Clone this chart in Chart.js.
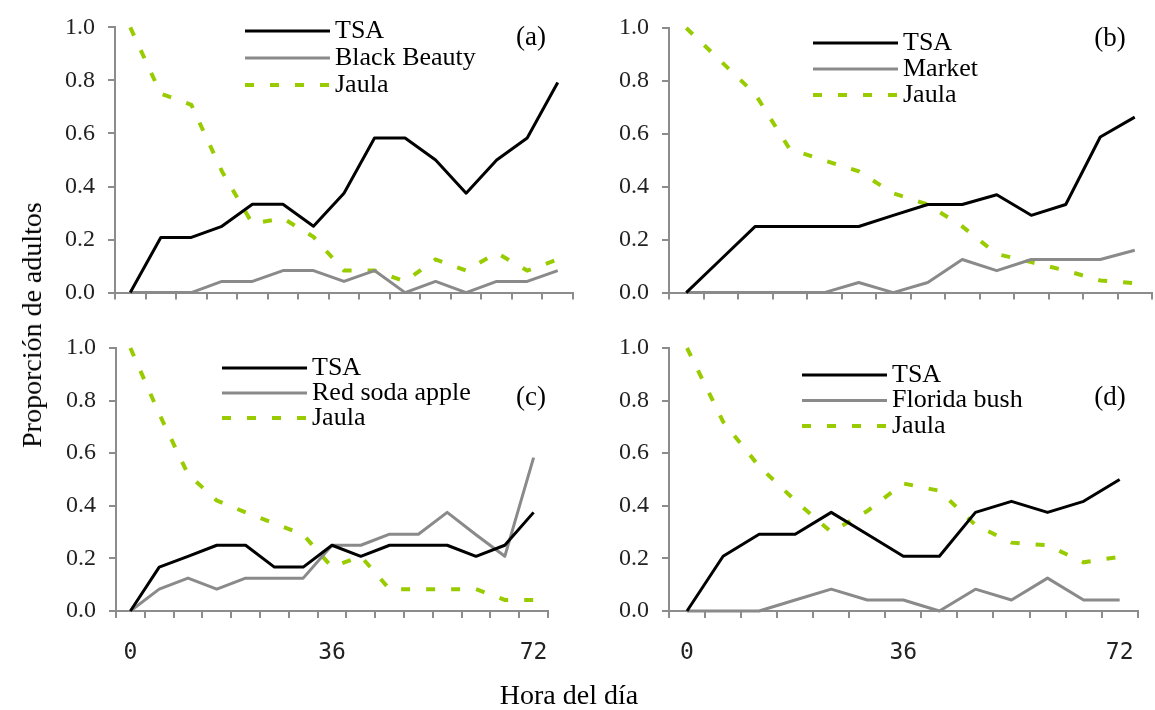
<!DOCTYPE html>
<html>
<head>
<meta charset="utf-8">
<script src="https://cdn.jsdelivr.net/npm/chart.js@4.4.1/dist/chart.umd.min.js"></script>
<style>
  body { margin:0; background:#fff; width:1155px; height:710px; position:relative; overflow:hidden; font-family:"Liberation Serif", serif; color:#000; }
  canvas { position:absolute; }
  #ytitle { position:absolute; left:32px; top:325px; transform:translate(-50%,-50%) rotate(-90deg); font-size:28px; line-height:1; white-space:nowrap; }
  #xtitle { position:absolute; left:569px; top:681px; transform:translateX(-50%); font-size:28px; line-height:1; white-space:nowrap; }
</style>
</head>
<body>
<canvas id="cA" width="600" height="320" style="left:0;top:0"></canvas>
<canvas id="cB" width="555" height="320" style="left:600px;top:0"></canvas>
<canvas id="cC" width="600" height="360" style="left:0;top:320px"></canvas>
<canvas id="cD" width="555" height="360" style="left:600px;top:320px"></canvas>
<div id="ytitle">Proporción de adultos</div>
<div id="xtitle">Hora del día</div>
<script>
// x tick labels (only the bottom panels show hours)
const hoursA = ['', '', '', '', '', '', '', '', '', '', '', '', '', '', ''];
const hoursB = ['', '', '', '', '', '', '', '', '', '', '', '', '', ''];
const hoursC = ['0', '', '', '', '', '', '', '36', '', '', '', '', '', '', '72'];
const hoursD = ['0', '', '', '', '', '', '36', '', '', '', '', '', '72'];

// (a) TSA vs Black Beauty
const tsaA   = [0, 0.208, 0.208, 0.25, 0.333, 0.333, 0.25, 0.375, 0.583, 0.583, 0.5, 0.375, 0.5, 0.583, 0.792];
const hostA  = [0, 0, 0, 0.042, 0.042, 0.083, 0.083, 0.042, 0.083, 0, 0.042, 0, 0.042, 0.042, 0.083];
const jaulaA = [1.0, 0.75, 0.708, 0.458, 0.26, 0.28, 0.21, 0.083, 0.083, 0.042, 0.125, 0.083, 0.15, 0.083, 0.125];

// (b) TSA vs Market
const tsaB   = [0, 0.125, 0.25, 0.25, 0.25, 0.25, 0.292, 0.333, 0.333, 0.37, 0.292, 0.333, 0.588, 0.663];
const hostB  = [0, 0, 0, 0, 0, 0.038, 0, 0.038, 0.125, 0.083, 0.125, 0.125, 0.125, 0.16];
const jaulaB = [1.0, 0.875, 0.75, 0.542, 0.5, 0.458, 0.375, 0.333, 0.25, 0.146, 0.115, 0.083, 0.046, 0.035];

// (c) TSA vs Red soda apple
const tsaC   = [0, 0.167, 0.208, 0.25, 0.25, 0.167, 0.167, 0.25, 0.208, 0.25, 0.25, 0.25, 0.208, 0.25, 0.375];
const hostC  = [0, 0.083, 0.125, 0.083, 0.125, 0.125, 0.125, 0.25, 0.25, 0.292, 0.292, 0.375, 0.29, 0.208, 0.583];
const jaulaC = [1.0, 0.75, 0.52, 0.42, 0.375, 0.333, 0.29, 0.167, 0.208, 0.083, 0.083, 0.083, 0.083, 0.042, 0.042];

// (d) TSA vs Florida bush
const tsaD   = [0, 0.208, 0.292, 0.292, 0.375, 0.292, 0.208, 0.208, 0.375, 0.417, 0.375, 0.417, 0.5];
const hostD  = [0, 0, 0, 0.042, 0.083, 0.042, 0.042, 0, 0.083, 0.042, 0.125, 0.042, 0.042];
const jaulaD = [1.0, 0.72, 0.55, 0.42, 0.3, 0.38, 0.485, 0.457, 0.327, 0.26, 0.25, 0.185, 0.206];

const axisCol = '#8c8c8c';
const serif = '"Liberation Serif", "Times New Roman", serif';

// legend lines + panel letter drawn inside the plot, like the original
const panelDeco = {
  id: 'panelDeco',
  afterDatasetsDraw(chart, args, o) {
    const ctx = chart.ctx;
    ctx.save();
    ctx.font = '26px ' + serif;
    ctx.textBaseline = 'middle';
    ctx.fillStyle = '#000';
    chart.data.datasets.forEach((ds, i) => {
      const y = o.y + i * o.gap;
      ctx.strokeStyle = ds.borderColor;
      ctx.lineWidth = ds.borderWidth;
      ctx.setLineDash(ds.borderDash || []);
      ctx.beginPath();
      ctx.moveTo(o.x, y);
      ctx.lineTo(o.x + 85, y);
      ctx.stroke();
      ctx.fillText(ds.label, o.x + 90, y);
    });
    ctx.setLineDash([]);
    ctx.textAlign = 'center';
    ctx.font = '27px ' + serif;
    ctx.fillText(o.tag, o.tagX, o.tagY);
    ctx.restore();
  }
};

function makePanel(id, labels, tsa, host, hostName, jaula, geo) {
  new Chart(document.getElementById(id), {
    type: 'line',
    data: {
      labels,
      datasets: [
        { label:'TSA', data:tsa, borderColor:'#000', borderWidth:3, pointRadius:0, tension:0, clip:false, borderJoinStyle:'round' },
        { label:hostName, data:host, borderColor:'#8a8a8a', borderWidth:3, pointRadius:0, tension:0, clip:false, borderJoinStyle:'round' },
        { label:'Jaula', data:jaula, borderColor:'#99cc00', borderWidth:4, borderDash:[9,16], pointRadius:0, tension:0, clip:false }
      ]
    },
    options: {
      responsive: false,
      animation: false,
      events: [],
      layout: { padding: { top:geo.top, right:geo.right, left:0, bottom:0 } },
      plugins: { legend:{ display:false }, tooltip:{ enabled:false }, panelDeco: geo.deco },
      scales: {
        x: {
          type: 'category',
          offset: true,
          grid: { offset:true, drawOnChartArea:false, tickLength:7, color:axisCol, lineWidth:2 },
          border: { color:axisCol, width:2 },
          ticks: { display:geo.showX, autoSkip:false, maxRotation:0, padding:21, color:'#222',
                   font:{ family:'"DejaVu Sans Mono", monospace', size:23 } },
          afterFit: s => { s.height = geo.xh; }
        },
        y: {
          min: 0, max: 1,
          grid: { drawOnChartArea:false, tickLength:7, color:axisCol, lineWidth:2 },
          border: { color:axisCol, width:2 },
          ticks: { stepSize:0.2, padding:13, color:'#222', font:{ family:serif, size:24 },
                   callback: v => v.toFixed(1) },
          afterFit: s => { s.width = geo.yw; }
        }
      }
    },
    plugins: [panelDeco]
  });
}

makePanel('cA', hoursA, tsaA, hostA, 'Black Beauty', jaulaA,
  { top:18, right:27, yw:115, xh:24, showX:false,
    deco:{ x:245, y:31, gap:27, tag:'(a)', tagX:531, tagY:38 } });
makePanel('cB', hoursB, tsaB, hostB, 'Market', jaulaB,
  { top:28, right:3, yw:69, xh:22, showX:false,
    deco:{ x:213, y:43, gap:26, tag:'(b)', tagX:510, tagY:39 } });
makePanel('cC', hoursC, tsaC, hostC, 'Red soda apple', jaulaC,
  { top:28, right:52, yw:116, xh:69, showX:true,
    deco:{ x:222, y:48, gap:25, tag:'(c)', tagX:531, tagY:78 } });
makePanel('cD', hoursD, tsaD, hostD, 'Florida bush', jaulaD,
  { top:28, right:13, yw:69, xh:69, showX:true,
    deco:{ x:202, y:55, gap:25.5, tag:'(d)', tagX:510, tagY:78 } });
</script>
</body>
</html>
